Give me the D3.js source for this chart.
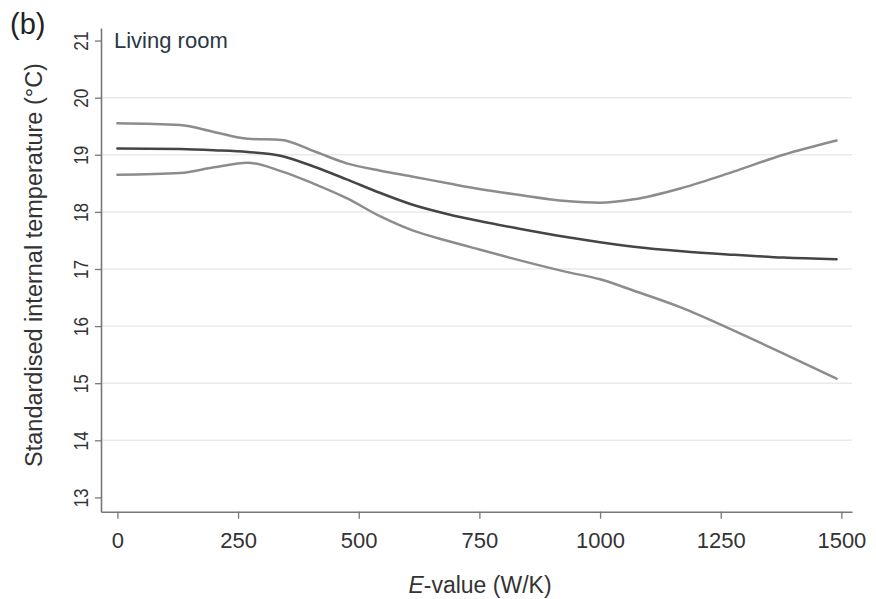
<!DOCTYPE html>
<html><head><meta charset="utf-8">
<script src="https://cdn.jsdelivr.net/npm/d3@7"></script>
<style>body{margin:0;background:#fff;} svg{display:block;font-family:"Liberation Sans",Arial,sans-serif;}</style>
</head><body>
<svg id="chart" width="876" height="599"></svg>
<script>
const eValues = [0,130,200,270,340,405,475,545,610,685,750,830,930,1000,1070,1170,1275,1380,1490];
const middleSeries = [19.11,19.10,19.08,19.05,18.98,18.80,18.57,18.33,18.13,17.96,17.84,17.71,17.56,17.47,17.39,17.31,17.25,17.20,17.17];
const upperSeries  = [19.55,19.52,19.40,19.28,19.26,19.07,18.85,18.72,18.62,18.50,18.40,18.30,18.19,18.16,18.22,18.42,18.70,19.00,19.25];
const lowerSeries  = [18.65,18.68,18.78,18.86,18.71,18.50,18.24,17.92,17.68,17.49,17.34,17.16,16.95,16.82,16.62,16.32,15.93,15.52,15.08];
const xTicks = [0,250,500,750,1000,1250,1500];
const yTicks = [13,14,15,16,17,18,19,20,21];
const gridTicks = [14,15,16,17,18,19,20];

const svg = d3.select("#chart");
const x = d3.scaleLinear().domain([-34,1522]).range([101,852]);
const y = d3.scaleLinear().domain([12.75,21.22]).range([511.7,28]);

// gridlines
svg.append("g").selectAll("line").data(gridTicks).join("line")
  .attr("x1",102).attr("x2",852).attr("y1",d=>y(d)).attr("y2",d=>y(d))
  .attr("stroke","#e6ebee").attr("stroke-width",1.5);

// axes
const xAxis = svg.append("g").attr("transform","translate(0,511.7)")
  .call(d3.axisBottom(x).tickValues(xTicks).tickFormat(d3.format("d")).tickSize(7).tickSizeOuter(0));
const yAxis = svg.append("g").attr("transform","translate(101,0)")
  .call(d3.axisLeft(y).tickValues(yTicks).tickFormat(d3.format("d")).tickSize(6).tickSizeOuter(0));
[xAxis,yAxis].forEach(g=>{
  g.select(".domain").attr("stroke","#777").attr("stroke-width",1.6);
  g.selectAll(".tick line").attr("stroke","#777").attr("stroke-width",1.3);
  g.selectAll("text").attr("fill","#333").style("font-family","'Liberation Sans',Arial,sans-serif");
});
yAxis.selectAll(".tick text")
  .attr("x",null).attr("dy",null)
  .attr("text-anchor","middle")
  .style("font-size","21px")
  .attr("transform","translate(-13,0) rotate(-90) scale(0.82,1)");
xAxis.selectAll(".tick text").attr("y",36.3).attr("dy",null).style("font-size","22px");

// lines
const line = d3.line().x((d,i)=>x(eValues[i])).y(d=>y(d)).curve(d3.curveMonotoneX);
[[upperSeries,"#8c8c8c"],[lowerSeries,"#8c8c8c"],[middleSeries,"#454545"]].forEach(([s,c])=>{
  svg.append("path").datum(s).attr("d",line).attr("fill","none")
    .attr("stroke",c).attr("stroke-width",2.5).attr("stroke-linecap","round");
});

// texts
svg.append("text").attr("x",10).attr("y",34).attr("fill","#222").style("font-size","29px").text("(b)");
svg.append("text").attr("x",114).attr("y",48).attr("fill","#2a3846").style("font-size","22px").text("Living room");
svg.append("text").attr("transform","translate(42,265) rotate(-90)").attr("text-anchor","middle")
  .attr("fill","#333").style("font-size","23.5px").text("Standardised internal temperature (°C)");
const xl = svg.append("text").attr("x",480).attr("y",593).attr("text-anchor","middle").attr("fill","#333").style("font-size","23px");
xl.append("tspan").style("font-style","italic").text("E");
xl.append("tspan").text("-value (W/K)");
</script>
</body></html>
